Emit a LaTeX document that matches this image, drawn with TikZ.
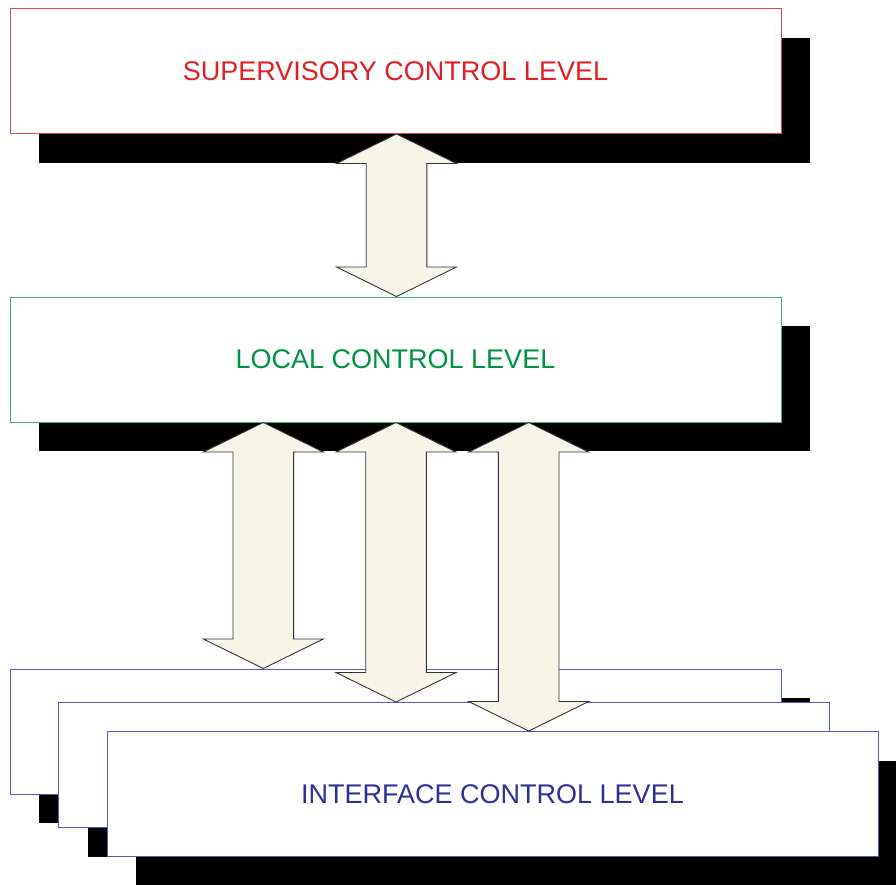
\documentclass[tikz,border=0pt]{standalone}
\usepackage{fontspec}
\setmainfont{Liberation Sans}
\usetikzlibrary{calc}
\definecolor{supred}{RGB}{228,30,38}
\definecolor{supredline}{RGB}{226,70,78}
\definecolor{locgreen}{RGB}{0,146,69}
\definecolor{locgreenline}{RGB}{70,175,120}
\definecolor{intblue}{RGB}{46,49,146}
\definecolor{intblueline}{RGB}{85,92,172}
\definecolor{arrowfill}{RGB}{247,245,232}
\tikzset{
  levelbox/.style={draw, line width=1pt, fill=white, minimum width=771pt, minimum height=125pt,
    inner sep=0pt, font=\fontsize{27}{30}\selectfont},
  shadowbox/.style={fill=black, draw=none, minimum width=771pt, minimum height=125pt, inner sep=0pt},
  fatarrow/.style={draw=black!80, line width=0.9pt, fill=arrowfill, line join=miter},
}
\newcommand\fatarrow[2]{%
  \draw[fatarrow] let \p1=(#1), \p2=(#2) in
    (\x1,\y1) -- (\x1+60pt,\y1-29.5pt) -- (\x1+30.3pt,\y1-29.5pt) -- (\x1+30.3pt,\y2+29.5pt)
    -- (\x1+60pt,\y2+29.5pt) -- (\x2,\y2) -- (\x1-60pt,\y2+29.5pt) -- (\x1-30.3pt,\y2+29.5pt)
    -- (\x1-30.3pt,\y1-29.5pt) -- (\x1-60pt,\y1-29.5pt) -- cycle;}
\begin{document}
\begin{tikzpicture}[x=1pt,y=-1pt]
\clip (0,0) rectangle (896,884);
\fill[white] (0,0) rectangle (896,884);
% supervisory
\node[shadowbox] (supsh) at (424.5,100) {};
\node[levelbox, draw=supredline, text=supred] (sup) at (395.5,71) {SUPERVISORY CONTROL LEVEL};
% local
\node[shadowbox] (locsh) at (424.5,388.5) {};
\node[levelbox, draw=locgreenline, text=locgreen] (loc) at (395.5,359.5) {LOCAL CONTROL LEVEL};
% interface stack
\node[shadowbox] (int1sh) at (424.5,760.5) {};
\node[levelbox, draw=intblueline] (int1) at (395.5,731.5) {};
\node[shadowbox] (int2sh) at (473,794) {};
\node[levelbox, draw=intblueline] (int2) at (444,765) {};
\node[shadowbox] (int3sh) at (521.5,823) {};
\node[levelbox, draw=intblueline, text=intblue] (int3) at (492.5,794) {INTERFACE CONTROL LEVEL};
% arrows
\coordinate (a0t) at ($(sup.south)+(1,0)$);
\coordinate (a0b) at ($(loc.north)+(1,0)$);
\fatarrow{a0t}{a0b}
\coordinate (aAt) at ($(loc.south)+(-132.2,0)$);
\coordinate (aAb) at ($(int1.north)+(-132.2,0)$);
\fatarrow{aAt}{aAb}
\coordinate (aBt) at ($(loc.south)+(0.5,0)$);
\coordinate (aBb) at ($(int2.north)+(-48,0)$);
\fatarrow{aBt}{aBb}
\coordinate (aCt) at ($(loc.south)+(133.2,0)$);
\coordinate (aCb) at ($(int3.north)+(36.2,0)$);
\fatarrow{aCt}{aCb}
\end{tikzpicture}
\end{document}
